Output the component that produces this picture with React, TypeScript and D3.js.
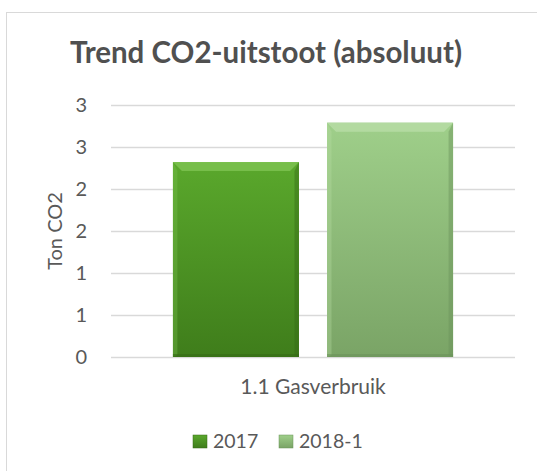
import React, { useEffect, useRef } from 'react';
import * as d3 from 'd3';

const categories = ['1.1 Gasverbruik'];
const seriesNames = ['2017', '2018-1'];
const seriesValues = [[2.32], [2.79]];
const yTicks = [0, 0.5, 1, 1.5, 2, 2.5, 3];

const colors = [
  { top: '#5aa82c', bottom: '#3f7d1b', light: '#7cc250', dark: '#356a16' },
  { top: '#9fcf8a', bottom: '#7aa466', light: '#b6dca4', dark: '#6a925a' },
];

const App = () => {
  const ref = useRef<SVGSVGElement>(null);

  useEffect(() => {
    document.body.style.margin = '0';
    const width = 537;
    const height = 471;
    const margin = { top: 105, right: 22, bottom: 114, left: 111 };
    const innerWidth = width - margin.left - margin.right;
    const innerHeight = height - margin.top - margin.bottom;
    const font = 'Lato, "Noto Sans", sans-serif';
    const textColor = '#595959';

    const svg = d3.select(ref.current).attr('width', width).attr('height', height);
    svg.selectAll('*').remove();

    // chart frame (runs off the right and bottom edge)
    svg.append('rect')
      .attr('x', 6.5).attr('y', 12.5)
      .attr('width', width + 20).attr('height', height + 20)
      .attr('fill', '#fff').attr('stroke', '#d9d9d9');

    const defs = svg.append('defs');
    colors.forEach((c, i) => {
      const grad = defs.append('linearGradient')
        .attr('id', `bar-grad-${i}`)
        .attr('x1', 0).attr('y1', 0).attr('x2', 0).attr('y2', 1);
      grad.append('stop').attr('offset', '0%').attr('stop-color', c.top);
      grad.append('stop').attr('offset', '100%').attr('stop-color', c.bottom);
    });

    svg.append('text')
      .attr('x', 266).attr('y', 63)
      .attr('text-anchor', 'middle')
      .style('font-family', font).style('font-weight', 'bold')
      .style('font-size', '29.5px').style('fill', '#505050')
      .text('Trend CO2-uitstoot (absoluut)');

    const g = svg.append('g').attr('transform', `translate(${margin.left},${margin.top})`);

    const y = d3.scaleLinear().domain([0, 3]).range([innerHeight, 0]);
    const x0 = d3.scaleBand().domain(categories).range([0, innerWidth]).paddingInner(0).paddingOuter(0.221);
    const x1 = d3.scaleBand().domain(seriesNames).range([0, x0.bandwidth()]).paddingInner(0.182);

    // gridlines
    g.selectAll('.grid')
      .data(yTicks)
      .enter()
      .append('line')
      .attr('x1', 0).attr('x2', innerWidth)
      .attr('y1', d => Math.round(y(d)) + 0.5).attr('y2', d => Math.round(y(d)) + 0.5)
      .attr('stroke', '#d9d9d9').attr('stroke-width', 1.5);

    // tick labels (rounded like the original)
    g.selectAll('.tick-label')
      .data(yTicks)
      .enter()
      .append('text')
      .attr('x', -24).attr('y', d => y(d))
      .attr('dy', '0.35em')
      .attr('text-anchor', 'end')
      .style('font-family', font).style('font-size', '20px').style('fill', textColor)
      .text(d => d3.format('.0f')(d === 0.5 ? 1 : d === 1.5 ? 2 : d === 2.5 ? 3 : d));

    // axis title
    g.append('text')
      .attr('transform', `translate(${55 - margin.left},${y(1.5)}) rotate(-90)`)
      .attr('text-anchor', 'middle')
      .attr('dy', '0.35em')
      .style('font-family', font).style('font-size', '20px').style('fill', textColor)
      .text('Ton CO2');

    // bars
    const bevel = 9;
    categories.forEach((cat, ci) => {
      seriesNames.forEach((s, si) => {
        const v = seriesValues[si][ci];
        const bx = (x0(cat) ?? 0) + (x1(s) ?? 0);
        const bw = x1.bandwidth();
        const by = y(v);
        const bh = y(0) - y(v);
        const c = colors[si];
        const bar = g.append('g');
        bar.append('rect')
          .attr('x', bx).attr('y', by).attr('width', bw).attr('height', bh)
          .attr('fill', `url(#bar-grad-${si})`);
        // top bevel
        bar.append('polygon')
          .attr('points', [[bx, by], [bx + bw, by], [bx + bw - bevel, by + bevel], [bx + bevel, by + bevel]].map(p => p.join(',')).join(' '))
          .attr('fill', c.light).attr('opacity', 0.85);
        // left bevel
        bar.append('polygon')
          .attr('points', [[bx, by], [bx + bevel * 0.5, by + bevel], [bx + bevel * 0.5, by + bh - 2], [bx, by + bh]].map(p => p.join(',')).join(' '))
          .attr('fill', c.light).attr('opacity', 0.35);
        // right bevel
        bar.append('polygon')
          .attr('points', [[bx + bw, by], [bx + bw - bevel * 0.5, by + bevel], [bx + bw - bevel * 0.5, by + bh - 2], [bx + bw, by + bh]].map(p => p.join(',')).join(' '))
          .attr('fill', c.dark).attr('opacity', 0.45);
        // bottom edge
        bar.append('rect')
          .attr('x', bx).attr('y', by + bh - 3).attr('width', bw).attr('height', 3)
          .attr('fill', c.dark).attr('opacity', 0.6);
      });
    });

    // category label
    g.selectAll('.cat-label')
      .data(categories)
      .enter()
      .append('text')
      .attr('x', d => (x0(d) ?? 0) + x0.bandwidth() / 2)
      .attr('y', innerHeight + 37)
      .attr('text-anchor', 'middle')
      .style('font-family', font).style('font-size', '21px').style('fill', textColor)
      .text(d => d);

    // legend
    const legendX = [193, 279];
    const legend = svg.append('g').attr('transform', 'translate(0,435)');
    const items = legend.selectAll('.legend-item')
      .data(seriesNames)
      .enter()
      .append('g')
      .attr('transform', (d, i) => `translate(${legendX[i]},0)`);
    items.append('rect')
      .attr('width', 14).attr('height', 13)
      .attr('fill', (d, i) => `url(#bar-grad-${i})`)
      .attr('stroke', (d, i) => colors[i].dark).attr('stroke-width', 0.5);
    items.append('text')
      .attr('x', 20).attr('y', 12.5)
      .style('font-family', font).style('font-size', '19.5px').style('fill', textColor)
      .text(d => d);
  }, []);

  return <svg ref={ref} style={{ display: 'block' }} />;
};

export default App;
